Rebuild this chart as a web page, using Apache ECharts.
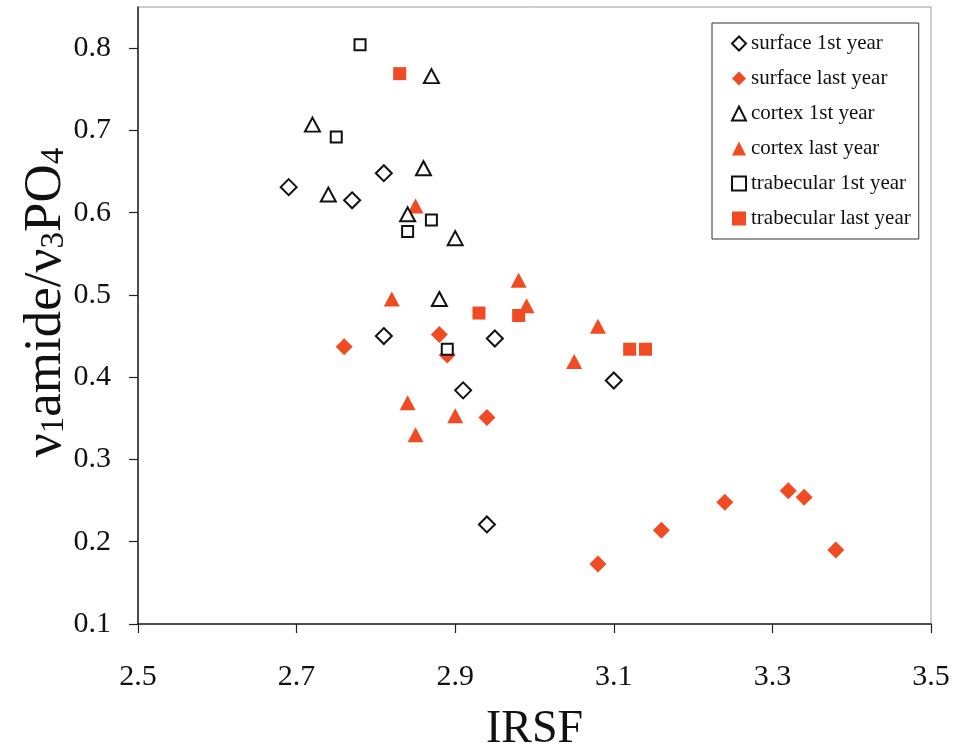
<!DOCTYPE html>
<html>
<head>
<meta charset="utf-8">
<script src="https://cdn.jsdelivr.net/npm/echarts@6/dist/echarts.min.js"></script>
<style>html,body{margin:0;padding:0;background:#fff}#c{width:953px;height:748px}</style>
</head>
<body>
<div id="c"></div>
<script>
var xTicks = [2.5, 2.7, 2.9, 3.1, 3.3, 3.5];
var yTicks = [0.1, 0.2, 0.3, 0.4, 0.5, 0.6, 0.7, 0.8];

var surface1st = [[2.69,0.631],[2.77,0.615],[2.81,0.648],[2.81,0.450],[2.95,0.447],[2.91,0.384],[3.10,0.396],[2.94,0.221]];
var surfaceLast = [[2.76,0.437],[2.88,0.452],[2.89,0.427],[2.94,0.351],[3.08,0.173],[3.16,0.214],[3.24,0.248],[3.32,0.262],[3.34,0.254],[3.38,0.190]];
var cortex1st = [[2.87,0.766],[2.72,0.707],[2.86,0.654],[2.74,0.622],[2.84,0.598],[2.90,0.569],[2.88,0.495]];
var cortexLast = [[2.85,0.608],[2.82,0.495],[2.98,0.518],[2.99,0.487],[2.84,0.369],[2.90,0.353],[2.85,0.330],[3.08,0.462],[3.05,0.419]];
var trab1st = [[2.78,0.804],[2.75,0.692],[2.87,0.591],[2.84,0.577],[2.89,0.434]];
var trabLast = [[2.83,0.769],[2.93,0.478],[2.98,0.475],[3.12,0.434],[3.14,0.434]];

var RED = '#F04B23';
var FONT = '"Liberation Serif", "Times New Roman", serif';

var openStyle = {color: '#ffffff', borderColor: '#111111', borderWidth: 2, opacity: 1};
var fillStyle = {color: RED, borderWidth: 0, opacity: 1};

var chart = echarts.init(document.getElementById('c'), null, {renderer: 'canvas'});
chart.setOption({
  backgroundColor: '#ffffff',
  animation: false,
  textStyle: {fontFamily: FONT},
  grid: {left: 138, right: 22, top: 7, bottom: 124, show: true, borderColor: '#999999', borderWidth: 1, backgroundColor: 'transparent', containLabel: false, outerBoundsMode: 'none'},
  legend: {
    orient: 'vertical',
    left: 712, top: 23,
    padding: [10, 8, 10, 19],
    itemGap: 14,
    itemWidth: 14, itemHeight: 14,
    borderColor: '#333333', borderWidth: 1,
    backgroundColor: '#ffffff',
    textStyle: {fontFamily: FONT, fontSize: 21, color: '#111111', lineHeight: 20},
    data: ['surface 1st year','surface last year','cortex 1st year','cortex last year','trabecular 1st year','trabecular last year']
  },
  xAxis: {
    type: 'value', min: 2.5, max: 3.5, interval: 0.2,
    name: 'IRSF', nameLocation: 'middle', nameGap: 83,
    nameTextStyle: {fontFamily: FONT, fontSize: 46, color: '#111111'},
    axisLine: {show: true, onZero: false, lineStyle: {color: '#222222', width: 1.5}},
    axisTick: {show: true, inside: false, length: 9, lineStyle: {color: '#222222', width: 1.2}, customValues: xTicks},
    axisLabel: {fontFamily: FONT, fontSize: 30, color: '#111111', margin: 38, customValues: xTicks, formatter: function(v){return v.toFixed(1);}},
    splitLine: {show: false}
  },
  yAxis: {
    type: 'value', min: 0.1, max: 0.85,
    name: '{a|ν}{s|1}{a|amide/ν}{s|3}{a|PO}{s|4}',
    nameLocation: 'middle', nameGap: 67, nameRotate: 90,
    nameMoveOverlap: false,
    nameTextStyle: {
      fontFamily: FONT, fontSize: 53, color: '#111111',
      padding: [0, 0, 0, 26],
      rich: {
        a: {fontFamily: FONT, fontSize: 53, lineHeight: 50, color: '#111111'},
        s: {fontFamily: FONT, fontSize: 33, lineHeight: 26, verticalAlign: 'bottom', color: '#111111'}
      }
    },
    axisLine: {show: true, onZero: false, lineStyle: {color: '#222222', width: 1.5}},
    axisTick: {show: true, inside: false, length: 9, lineStyle: {color: '#222222', width: 1.2}, customValues: yTicks},
    axisLabel: {fontFamily: FONT, fontSize: 30, color: '#111111', margin: 27, customValues: yTicks, formatter: function(v){return v.toFixed(1);}},
    splitLine: {show: false}
  },
  series: [
    {name: 'surface 1st year', type: 'scatter', symbol: 'diamond', symbolSize: 16, itemStyle: openStyle, data: surface1st, z: 3},
    {name: 'surface last year', type: 'scatter', symbol: 'diamond', symbolSize: 17, itemStyle: fillStyle, data: surfaceLast, z: 2},
    {name: 'cortex 1st year', type: 'scatter', symbol: 'triangle', symbolSize: [15, 14], itemStyle: openStyle, data: cortex1st, z: 3},
    {name: 'cortex last year', type: 'scatter', symbol: 'triangle', symbolSize: [16, 15], itemStyle: fillStyle, data: cortexLast, z: 2},
    {name: 'trabecular 1st year', type: 'scatter', symbol: 'rect', symbolSize: 11, itemStyle: openStyle, data: trab1st, z: 3},
    {name: 'trabecular last year', type: 'scatter', symbol: 'rect', symbolSize: 13, itemStyle: fillStyle, data: trabLast, z: 2}
  ]
});
</script>
</body>
</html>
